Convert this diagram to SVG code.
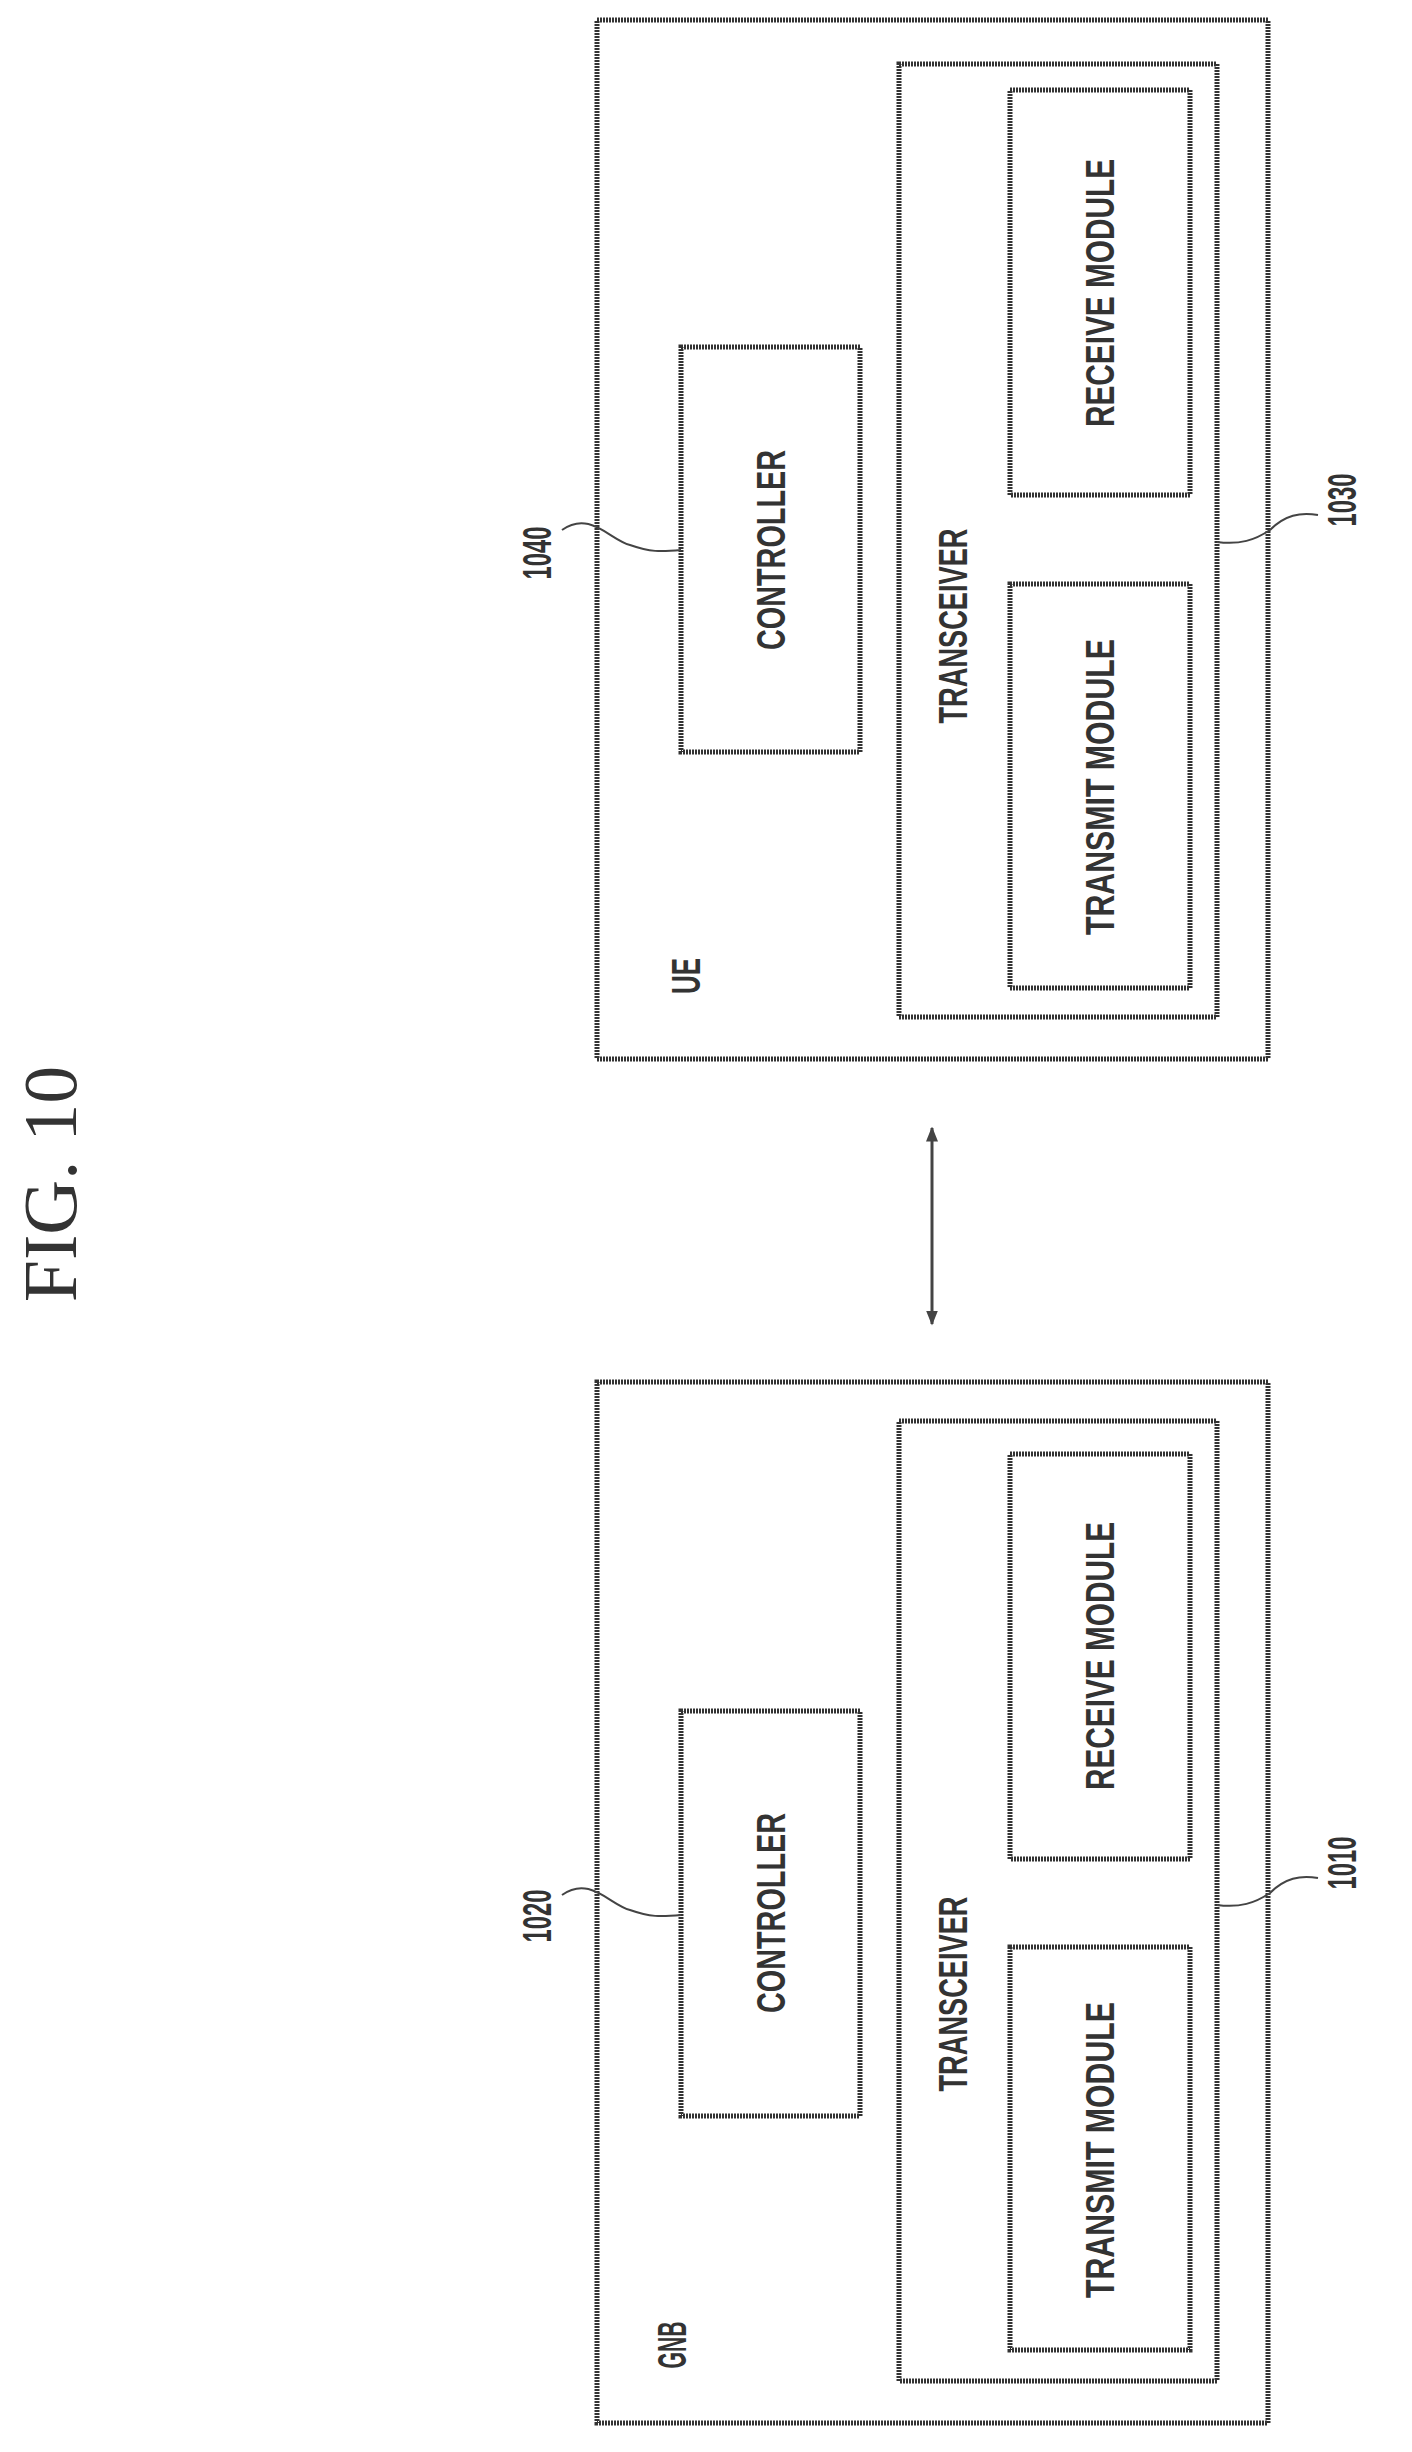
<svg xmlns="http://www.w3.org/2000/svg" width="1412" height="2452" viewBox="0 0 1412 2452">
<style>
.b{fill:none;stroke:#333;stroke-width:5;stroke-dasharray:2 1}
.t{font-family:"Liberation Sans",Arial,sans-serif;font-size:40px;font-weight:bold;fill:#333;text-anchor:middle;dominant-baseline:central}
.l{fill:none;stroke:#444;stroke-width:2}
.f{font-family:"Liberation Serif","Times New Roman",serif;font-size:76px;fill:#333;text-anchor:middle;dominant-baseline:central}
</style>
<defs>
<marker id="ah" viewBox="0 0 10 10" refX="9" refY="5" markerWidth="5" markerHeight="5" orient="auto-start-reverse"><path d="M0,1 L10,5 L0,9 z" fill="#444"/></marker>
</defs>
<text class="f" transform="translate(50,1184) rotate(-90)">FIG. 10</text>
<g id="ue">
<rect class="b" x="597" y="20" width="671" height="1039"/>
<text class="t" transform="translate(686,976) rotate(-90)" textLength="36" lengthAdjust="spacingAndGlyphs">UE</text>
</g>
<g id="ue-transceiver">
<rect class="b" x="899" y="64" width="318" height="953"/>
<text class="t" transform="translate(953,626) rotate(-90)" textLength="195" lengthAdjust="spacingAndGlyphs">TRANSCEIVER</text>
</g>
<g id="ue-receive">
<rect class="b" x="1010" y="90" width="180" height="405"/>
<text class="t" transform="translate(1100,293) rotate(-90)" textLength="268" lengthAdjust="spacingAndGlyphs">RECEIVE MODULE</text>
</g>
<g id="ue-transmit">
<rect class="b" x="1010" y="584" width="180" height="404"/>
<text class="t" transform="translate(1100,787) rotate(-90)" textLength="296" lengthAdjust="spacingAndGlyphs">TRANSMIT MODULE</text>
</g>
<g id="ue-controller">
<rect class="b" x="681" y="347" width="179" height="405"/>
<text class="t" transform="translate(771,550) rotate(-90)" textLength="200" lengthAdjust="spacingAndGlyphs">CONTROLLER</text>
</g>
<g id="gnb">
<rect class="b" x="597" y="1382" width="671" height="1041"/>
<text class="t" transform="translate(672,2345) rotate(-90)" textLength="47" lengthAdjust="spacingAndGlyphs">GNB</text>
</g>
<g id="gnb-transceiver">
<rect class="b" x="899" y="1421" width="318" height="960"/>
<text class="t" transform="translate(953,1994) rotate(-90)" textLength="195" lengthAdjust="spacingAndGlyphs">TRANSCEIVER</text>
</g>
<g id="gnb-receive">
<rect class="b" x="1010" y="1454" width="180" height="405"/>
<text class="t" transform="translate(1100,1656) rotate(-90)" textLength="268" lengthAdjust="spacingAndGlyphs">RECEIVE MODULE</text>
</g>
<g id="gnb-transmit">
<rect class="b" x="1010" y="1947" width="180" height="403"/>
<text class="t" transform="translate(1100,2150) rotate(-90)" textLength="296" lengthAdjust="spacingAndGlyphs">TRANSMIT MODULE</text>
</g>
<g id="gnb-controller">
<rect class="b" x="681" y="1711" width="179" height="405"/>
<text class="t" transform="translate(771,1913) rotate(-90)" textLength="200" lengthAdjust="spacingAndGlyphs">CONTROLLER</text>
</g>
<g id="labels">
<text class="t" transform="translate(537,553) rotate(-90)" textLength="53" lengthAdjust="spacingAndGlyphs">1040</text>
<text class="t" transform="translate(1342,500) rotate(-90)" textLength="53" lengthAdjust="spacingAndGlyphs">1030</text>
<text class="t" transform="translate(537,1916) rotate(-90)" textLength="53" lengthAdjust="spacingAndGlyphs">1020</text>
<text class="t" transform="translate(1342,1863) rotate(-90)" textLength="53" lengthAdjust="spacingAndGlyphs">1010</text>
</g>
<g id="connectors">
<path class="l" d="M562,530 C590,510 610,540 630,545 C650,552 660,552 681,550"/>
<path class="l" d="M1217,542 C1240,545 1255,540 1270,530 C1285,515 1300,512 1318,515"/>
<path class="l" d="M562,1895 C590,1875 610,1905 630,1910 C650,1917 660,1917 681,1915"/>
<path class="l" d="M1217,1905 C1240,1908 1255,1903 1270,1893 C1285,1878 1300,1875 1318,1878"/>
<line x1="932" y1="1128" x2="932" y2="1324" stroke="#444" stroke-width="3" marker-start="url(#ah)" marker-end="url(#ah)"/>
</g>
</svg>
